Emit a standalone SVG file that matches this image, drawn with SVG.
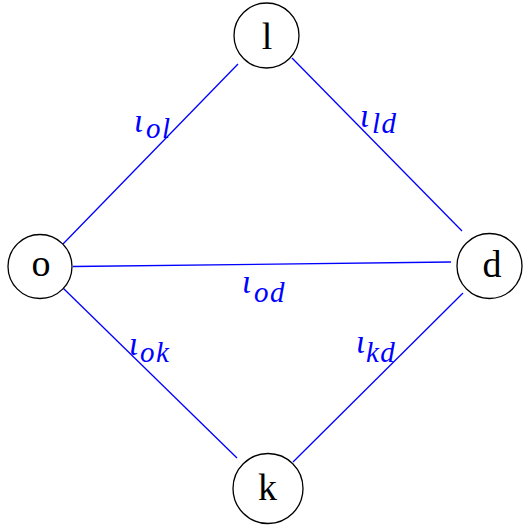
<svg xmlns="http://www.w3.org/2000/svg" width="523" height="527" viewBox="0 0 523 527">
<style>
.edge{stroke:#0000ff;stroke-width:1.3;fill:none}
.node circle{fill:#ffffff;stroke:#000000;stroke-width:1.3}
.node text{font-family:"Liberation Serif","DejaVu Serif",serif;font-size:38px;fill:#000;text-anchor:middle}
.lab{font-family:"Liberation Serif","DejaVu Serif",serif;font-style:italic;fill:#0000ff}
.i{font-size:33px}
.s{font-size:29px;letter-spacing:1.5px}
</style>
<rect width="523" height="527" fill="#ffffff"/>
<g id="connectors">
<line class="edge" x1="63" y1="244" x2="238" y2="64"/>
<line class="edge" x1="292" y1="58" x2="462" y2="231"/>
<line class="edge" x1="73" y1="266.5" x2="451" y2="262"/>
<line class="edge" x1="63" y1="288" x2="237" y2="458"/>
<line class="edge" x1="463" y1="293" x2="293" y2="462"/>
</g>
<g id="labels">
<text class="lab i" x="134" y="132">ι</text><text class="lab s" x="146" y="138">ol</text>
<text class="lab i" x="360" y="127">ι</text><text class="lab s" x="372" y="133">ld</text>
<text class="lab i" x="242" y="293">ι</text><text class="lab s" x="254" y="302">od</text>
<text class="lab i" x="129" y="355">ι</text><text class="lab s" x="140" y="362">ok</text>
<text class="lab i" x="356" y="353">ι</text><text class="lab s" x="366" y="362">kd</text>
</g>
<g id="node-l" class="node"><circle cx="266.5" cy="35.5" r="32.5"/><text x="267" y="49">l</text></g>
<g id="node-o" class="node"><circle cx="40" cy="266.5" r="32"/><text x="41" y="276">o</text></g>
<g id="node-d" class="node"><circle cx="489.5" cy="266" r="32.5"/><text x="492" y="277">d</text></g>
<g id="node-k" class="node"><circle cx="268" cy="488.5" r="35"/><text x="267.5" y="500">k</text></g>
</svg>
